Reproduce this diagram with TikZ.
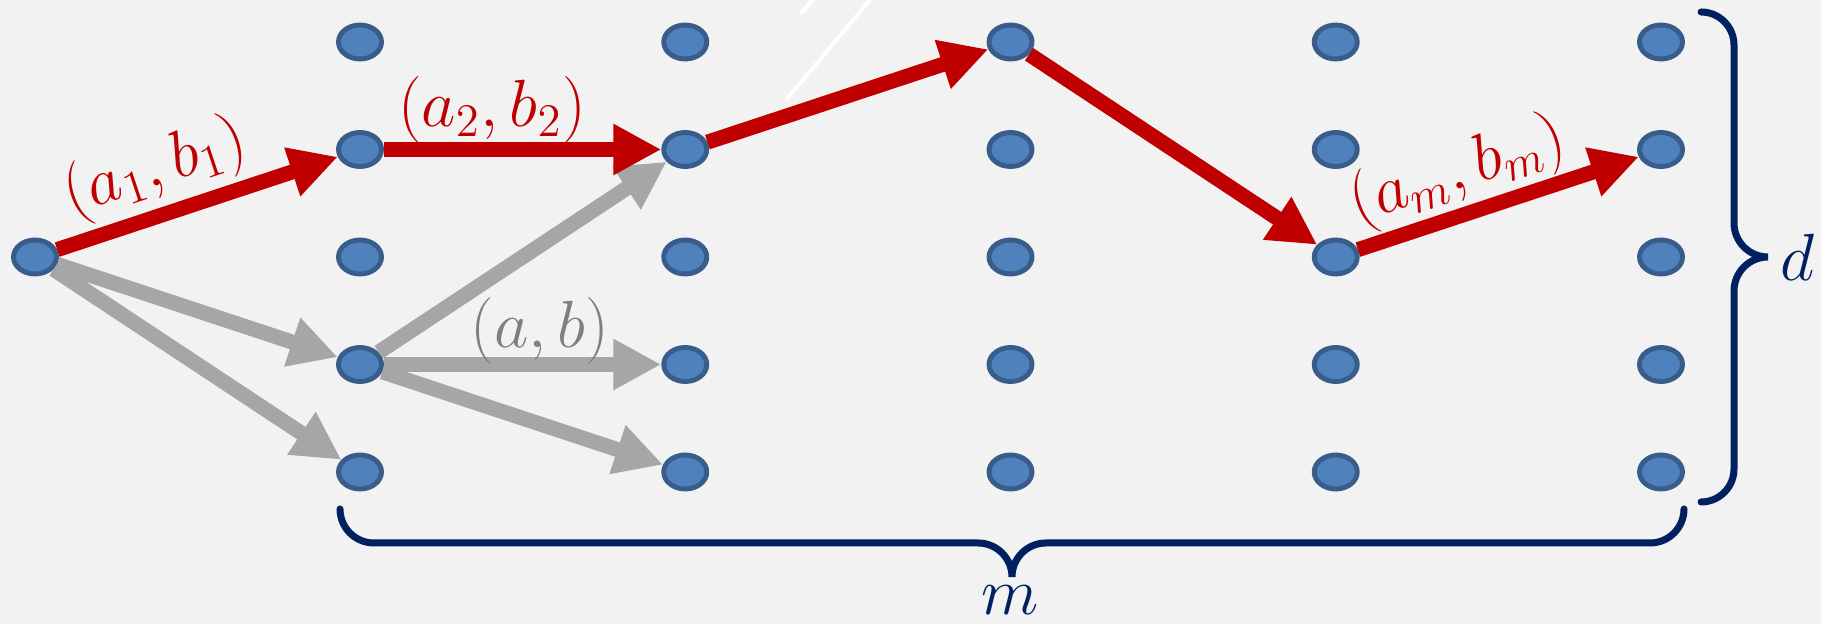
\documentclass[tikz,border=0pt]{standalone}
\usepackage{fix-cm}
\usetikzlibrary{arrows.meta,shapes.geometric}
\definecolor{bggray}{HTML}{F2F2F2}
\definecolor{dotfill}{HTML}{4F81BD}
\definecolor{dotline}{HTML}{385D8A}
\definecolor{pathred}{HTML}{C00000}
\definecolor{altgray}{HTML}{A6A6A6}
\definecolor{labgray}{HTML}{7F7F7F}
\definecolor{bracenavy}{HTML}{002060}
\begin{document}
\begin{tikzpicture}[
    dot/.style={ellipse, fill=dotfill, draw=dotline, line width=1.4pt,
        minimum width=0.43cm, minimum height=0.34cm, inner sep=0pt},
    redarrow/.style={draw=pathred, line width=0.15cm,
        -{Triangle[length=0.48cm,width=0.48cm]}},
    grayarrow/.style={draw=altgray, line width=0.15cm,
        -{Triangle[length=0.48cm,width=0.48cm]}},
    lab/.style={font=\fontsize{19}{22}\selectfont, inner sep=1pt},
    bracepath/.style={draw=bracenavy, line width=0.07cm, line cap=round}]
    \useasboundingbox (0,0) rectangle (18.21,6.24);
    \fill [bggray] (0,0) rectangle (18.21,6.24);

    \draw [white, line width=0.04cm] (7.86,5.24)--(8.70,6.24);
    \draw [white, line width=0.04cm] (8.00,6.10)--(8.13,6.24);

    \node [dot] (s) at (0.35,3.67) {};
    \foreach \c in {1,...,5}
        \foreach \r in {1,...,5}
            \node [dot] (n\c\r) at ({3.60+3.2525*(\c-1)},{5.82-1.075*(\r-1)}) {};

    \draw [grayarrow] (s)--(n14);
    \draw [grayarrow] (s)--(n15);
    \draw [grayarrow] (n14)--(n22);
    \draw [grayarrow] (n14)--(n24);
    \draw [grayarrow] (n14)--(n25);

    \draw [redarrow] (s)--(n12);
    \draw [redarrow] (n12)--(n22);
    \draw [redarrow] (n22)--(n31);
    \draw [redarrow] (n31)--(n43);
    \draw [redarrow] (n43)--(n52);

    \node [lab, text=pathred, rotate=18.4] (l1) at (1.55,4.55) {$(a_1,b_1)$};
    \node [lab, text=pathred] (l2) at (4.92,5.14) {$(a_2,b_2)$};
    \node [lab, text=pathred, rotate=18.4] (lm) at (14.58,4.52) {$(a_m,b_m)$};
    \node [lab, text=labgray] (lab) at (5.40,2.93) {$(a,b)$};

    \coordinate (rtop) at (17.01,6.12);
    \coordinate (bleft) at (3.40,1.15);
    \draw [bracepath] (rtop) arc[start angle=90,end angle=0,radius=0.33]
        -- (17.34,4.01) arc[start angle=180,end angle=270,radius=0.34] coordinate (rtip)
        arc[start angle=90,end angle=180,radius=0.34]
        -- (17.34,1.55) arc[start angle=0,end angle=-90,radius=0.33];
    \draw [bracepath] (bleft) arc[start angle=180,end angle=270,radius=0.34]
        -- (9.78,0.81) arc[start angle=90,end angle=0,radius=0.34] coordinate (btip)
        arc[start angle=180,end angle=90,radius=0.34]
        -- (16.50,0.81) arc[start angle=270,end angle=360,radius=0.34];
    \node [lab, text=bracenavy, anchor=west] (d) at ([xshift=0.08cm]rtip) {$d$};
    \node [lab, text=bracenavy] (m) at (10.1,0.24) {$m$};
\end{tikzpicture}
\end{document}
